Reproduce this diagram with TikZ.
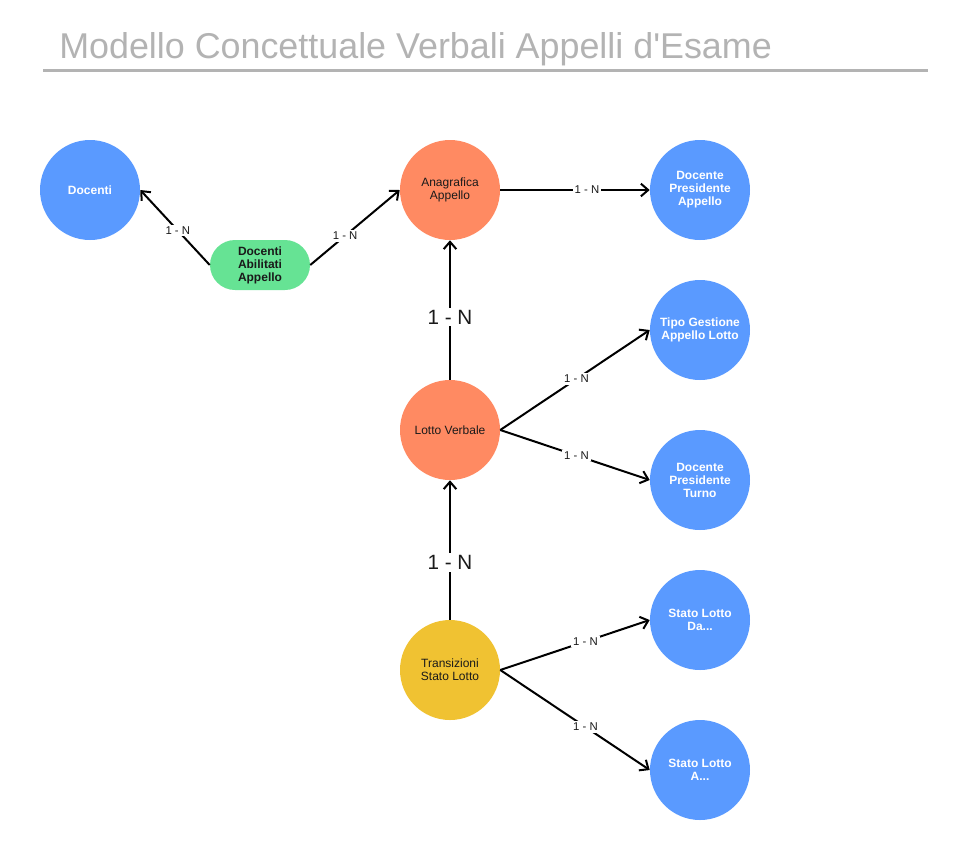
\documentclass[tikz,border=0pt]{standalone}
\usepackage{fontspec}
\setmainfont{Liberation Sans}
\usetikzlibrary{arrows.meta}

\definecolor{entblue}{HTML}{5A9AFF}
\definecolor{entorange}{HTML}{FF8A62}
\definecolor{entgreen}{HTML}{66E394}
\definecolor{entyellow}{HTML}{F0C232}
\definecolor{titlegray}{HTML}{B3B3B3}
\definecolor{textdark}{HTML}{1A1A1A}

\begin{document}
\begin{tikzpicture}[x=0.75pt,y=0.75pt,yscale=-1,xscale=1,
  ent/.style={circle, minimum size=75pt, inner sep=0pt, align=center, font=\fontsize{9}{9.75}\selectfont},
  lookup/.style={ent, fill=entblue, text=white, font=\fontsize{9}{9.75}\selectfont\bfseries},
  main/.style={ent, fill=entorange, text=textdark},
  trans/.style={ent, fill=entyellow, text=textdark},
  link/.style={rounded corners=18.75pt, fill=entgreen, minimum width=75pt, minimum height=37.5pt, inner sep=0pt, align=center, text=textdark, font=\fontsize{9}{9.75}\selectfont\bfseries},
  rel/.style={line width=1.5, -{Straight Barb[length=5.5pt,width=9.5pt]}},
  lbl/.style={fill=white, inner sep=1.5pt, text=textdark, font=\fontsize{8.5}{9}\selectfont},
  biglbl/.style={lbl, font=\fontsize{15.5}{16}\selectfont}]
\useasboundingbox (0,0) rectangle (964,840);
% Title
\node [anchor=base west, inner sep=0pt, text=titlegray, font=\fontsize{26.9}{30}\selectfont] (title) at (59,58) {Modello Concettuale Verbali Appelli d\textquotesingle Esame};
\draw [titlegray, line width=2.25] (43,70) -- (928,70) ;
% Entities
\node [lookup] (docenti) at (90,190) {Docenti};
\node [link] (abilitati) at (260,265) {Docenti\\Abilitati\\Appello};
\node [main] (anagrafica) at (450,190) {Anagrafica\\Appello};
\node [lookup] (presappello) at (700,190) {Docente\\Presidente\\Appello};
\node [lookup] (tipogest) at (700,330) {Tipo Gestione\\Appello Lotto};
\node [main] (lotto) at (450,430) {Lotto Verbale};
\node [lookup] (presturno) at (700,480) {Docente\\Presidente\\Turno};
\node [trans] (transiz) at (450,670) {Transizioni\\Stato Lotto};
\node [lookup] (statoda) at (700,620) {Stato Lotto\\Da...};
\node [lookup] (statoa) at (700,770) {Stato Lotto\\A...};
% Relations
\draw [rel] (abilitati.west) -- node [lbl, pos=0.46] (r1) {1 - N} (docenti.east) ;
\draw [rel] (abilitati.east) -- node [lbl, pos=0.39] (r2) {1 - N} (anagrafica.west) ;
\draw [rel] (anagrafica.east) -- node [lbl, pos=0.58] (r3) {1 - N} (presappello.west) ;
\draw [rel] (lotto.north) -- node [biglbl, pos=0.45] (r4) {1 - N} (anagrafica.south) ;
\draw [rel] (lotto.east) -- node [lbl, pos=0.51] (r5) {1 - N} (tipogest.west) ;
\draw [rel] (lotto.east) -- node [lbl, pos=0.51] (r6) {1 - N} (presturno.west) ;
\draw [rel] (transiz.north) -- node [biglbl, pos=0.41] (r7) {1 - N} (lotto.south) ;
\draw [rel] (transiz.east) -- node [lbl, pos=0.57] (r8) {1 - N} (statoda.west) ;
\draw [rel] (transiz.east) -- node [lbl, pos=0.57] (r9) {1 - N} (statoa.west) ;
\end{tikzpicture}
\end{document}
